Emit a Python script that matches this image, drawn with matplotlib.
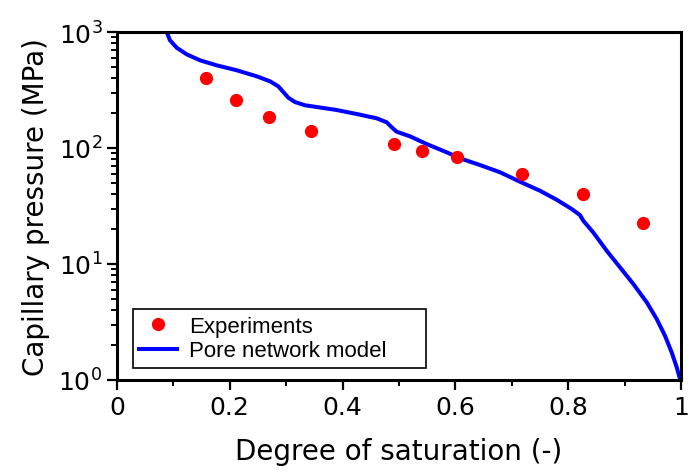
import matplotlib
matplotlib.use("Agg")
import matplotlib.pyplot as plt
from matplotlib.ticker import FixedLocator, FuncFormatter, LogLocator, NullFormatter

# experimental points
exp_sat = [0.158, 0.211, 0.270, 0.344, 0.491, 0.541, 0.603, 0.718, 0.826, 0.933]
exp_pc = [401, 259, 185, 140, 108, 94, 83.5, 59.7, 40, 22.5]

# pore network model curve
pnm_sat = [0.0878, 0.0881, 0.0940, 0.1059, 0.1236, 0.1472, 0.1768, 0.2122, 0.2477,
           0.2713, 0.2860, 0.2949, 0.3037, 0.3156, 0.3333, 0.3541, 0.3895, 0.4250,
           0.4605, 0.4782, 0.4871, 0.4959, 0.5195, 0.5491, 0.5846, 0.6082, 0.6436,
           0.6791, 0.7145, 0.7500, 0.7796, 0.8062, 0.8209, 0.8268, 0.8445, 0.8683,
           0.8918, 0.9154, 0.9392, 0.9569, 0.9716, 0.9835, 0.9924, 0.9982, 1.0]
pnm_pc = [1100, 1000, 848, 732, 642, 570, 516, 468, 415,
          376, 340, 304, 271.5, 249, 233.5, 225.7, 212.6, 196.4,
          180.3, 166.6, 150.8, 138.2, 126.1, 108.2, 91.8, 81.5, 71.3,
          61.8, 51.2, 42.8, 35.8, 29.8, 26.4, 23.6, 18.7, 13.0,
          9.37, 6.73, 4.68, 3.36, 2.41, 1.73, 1.29, 1.02, 1.0]

fig = plt.figure(figsize=(6.91, 4.77), dpi=100)
ax = fig.add_axes([0.1693, 0.2013, 0.8162, 0.7295])

ax.plot(exp_sat, exp_pc, "o", color="red", markersize=8.5, label="Experiments", zorder=3)
ax.plot(pnm_sat, pnm_pc, "-", color="#0000ff", lw=2.9, label="Pore network model",
        solid_joinstyle="round")

ax.set_yscale("log")
ax.set_xlim(0, 1)
ax.set_ylim(1, 1000)

ax.xaxis.set_major_locator(FixedLocator([0, 0.2, 0.4, 0.6, 0.8, 1.0]))
ax.xaxis.set_minor_locator(FixedLocator([0.1, 0.3, 0.5, 0.7, 0.9]))
ax.xaxis.set_major_formatter(FuncFormatter(lambda v, p: "%g" % v))
ax.yaxis.set_minor_locator(LogLocator(base=10, subs=range(2, 10)))
ax.yaxis.set_minor_formatter(NullFormatter())

for s in ax.spines.values():
    s.set_linewidth(2.2)
ax.tick_params(which="major", direction="out", length=7, width=1.6, labelsize=18, top=False, right=False)
ax.tick_params(which="minor", direction="out", length=4, width=1.4, top=False, right=False)

ax.set_xlabel("Degree of saturation (-)", fontsize=20, labelpad=13)
ax.set_ylabel("Capillary pressure (MPa)", fontsize=20, labelpad=6)

leg = ax.legend(loc="lower left", bbox_to_anchor=(0.028, 0.034, 0.5195, 0.18), mode="expand",
                borderaxespad=0, prop={"family": "Liberation Sans", "size": 16}, fancybox=False,
                edgecolor="black", framealpha=1, handlelength=1.7, handletextpad=0.55,
                labelspacing=0.15, borderpad=0.3)
leg.get_frame().set_linewidth(1.2)

fig.savefig("out.png", dpi=100)
